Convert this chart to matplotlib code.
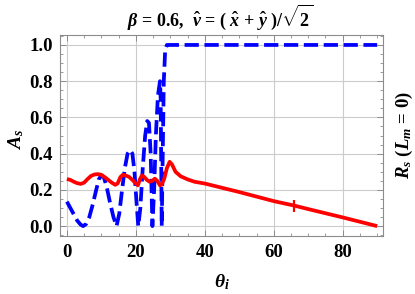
import matplotlib
matplotlib.use("Agg")
import matplotlib.pyplot as plt
from matplotlib.ticker import MultipleLocator

plt.rcParams['font.family'] = ['Liberation Serif', 'DejaVu Serif']
plt.rcParams['font.weight'] = 'bold'
plt.rcParams['mathtext.fontset'] = 'custom'
plt.rcParams['mathtext.rm'] = 'Liberation Serif:bold'
plt.rcParams['mathtext.it'] = 'Liberation Serif:bold:italic'
plt.rcParams['mathtext.bf'] = 'Liberation Serif:bold'

# A_s (blue dashed)
theta_a = [0, 1, 2, 3, 4, 4.7, 5.5, 6.5, 7.5, 8.5, 9.3, 10.0, 10.7, 11.5, 12.5, 13.5,
           14.4, 15.2, 16.0, 16.8, 17.6, 18.3, 19.0, 19.6, 20.2, 20.7, 21.3, 22.0,
           22.7, 23.3, 23.8, 24.3, 24.8, 25.3, 25.8, 26.4, 27.0, 27.2, 27.5, 27.8,
           28.1, 28.5, 29.0, 90]
a_s = [0.135, 0.10, 0.065, 0.03, 0.008, 0.0, 0.01, 0.05, 0.12, 0.20, 0.26, 0.28, 0.27,
       0.22, 0.13, 0.05, 0.0, 0.07, 0.20, 0.32, 0.40, 0.42, 0.40, 0.30, 0.13, 0.0,
       0.10, 0.32, 0.50, 0.58, 0.57, 0.40, 0.0, 0.20, 0.50, 0.72, 0.80, 0.70, 0.0,
       0.40, 0.80, 0.97, 1.0, 1.0]

# R_s (red solid)
theta_r = [0, 1, 2, 3, 4, 5, 6, 7, 8, 9, 10, 11, 12, 13, 14, 14.7, 15.5, 16.2, 17,
           18, 19, 20, 20.6, 21.2, 21.8, 22.5, 23.2, 24, 24.8, 25.5, 26.2, 27, 27.5,
           28.2, 29, 29.8, 30.5, 31.5, 33, 35, 37, 40, 50, 60, 66, 70, 80, 90]
r_s = [0.26, 0.255, 0.245, 0.237, 0.233, 0.24, 0.26, 0.277, 0.285, 0.287, 0.283,
       0.27, 0.255, 0.24, 0.228, 0.235, 0.27, 0.283, 0.28, 0.272, 0.255, 0.235,
       0.225, 0.26, 0.28, 0.27, 0.255, 0.245, 0.25, 0.262, 0.25, 0.225, 0.23,
       0.26, 0.32, 0.355, 0.34, 0.30, 0.275, 0.258, 0.245, 0.235, 0.188, 0.138,
       0.113, 0.094, 0.048, 0.0]

mark_theta = [66]
mark_r = [0.113]

fig = plt.figure(figsize=(4.15, 2.94), dpi=100)
ax = fig.add_axes([0.1446, 0.197, 0.7784, 0.684])

ax.plot(theta_a, a_s, color='#0000ff', lw=2.7, ls=(0, (3.8, 1.5)), zorder=3)
ax.plot(theta_r, r_s, color='#ff0000', lw=2.7, zorder=4, solid_capstyle='butt')
ax.plot(mark_theta, mark_r, marker='|', ms=8, mew=1.6, color='#ff0000', zorder=5)

ax.set_xlim(-2, 91.7)
ax.set_ylim(-0.055, 1.055)
ax.xaxis.set_major_locator(MultipleLocator(20))
ax.xaxis.set_minor_locator(MultipleLocator(5))
ax.yaxis.set_major_locator(MultipleLocator(0.2))
ax.yaxis.set_minor_locator(MultipleLocator(0.05))
ax.yaxis.set_major_formatter(matplotlib.ticker.FormatStrFormatter('%.1f'))
ax.grid(True, which='major', color='#cccccc', lw=0.8)
ax.set_axisbelow(True)

for s in ax.spines.values():
    s.set_color('#8c8c8c')
    s.set_linewidth(0.8)
ax.tick_params(which='both', direction='in', top=True, right=True, color='#8c8c8c',
               labelsize=13.5)
ax.tick_params(which='major', length=4, width=0.7)
ax.tick_params(which='minor', length=2, width=0.6)
ax.tick_params(axis='x', pad=6)
ax.tick_params(axis='y', pad=5)

fig.text(0.53, 0.942, r'$\beta$ = 0.6,  $\hat{v}$ = ( $\hat{x}$ + $\hat{y}$ )/$\sqrt{2}$',
         ha='center', va='center', fontsize=13, fontweight='bold')
fig.text(0.04, 0.525, r'$A_s$', rotation=90, ha='center', va='center', fontsize=14)
fig.text(0.534, 0.04, r'$\theta_i$', ha='center', va='center', fontsize=14)
fig.text(0.975, 0.54, r'$R_s$ ($L_m$ = 0)', rotation=90, ha='center', va='center',
         fontsize=13.5, fontweight='bold')

fig.savefig('out.png', dpi=100)
